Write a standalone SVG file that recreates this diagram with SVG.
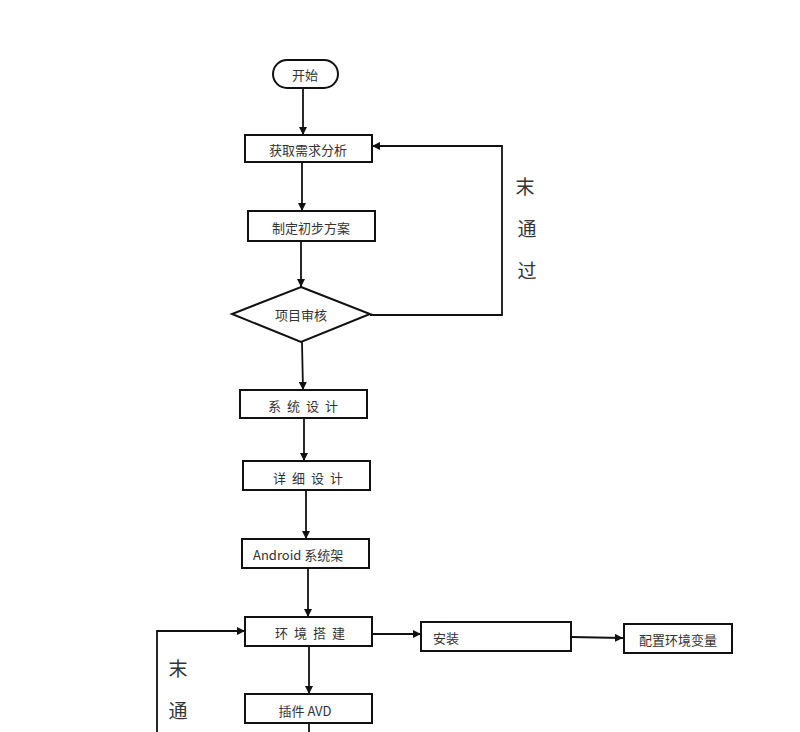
<svg xmlns="http://www.w3.org/2000/svg" width="800" height="732" viewBox="0 0 800 732">
<style>
.box{fill:#fff;stroke:#111;stroke-width:2}
.t{font-family:"Noto Sans CJK SC","Liberation Sans",sans-serif;font-size:13px;fill:#333;dominant-baseline:central}
.c{text-anchor:middle}
.big{font-family:"Noto Sans CJK SC",sans-serif;font-size:19px;fill:#333;text-anchor:middle;dominant-baseline:central}
.ln{fill:none;stroke:#111;stroke-width:1.8}
</style>
<defs>
<marker id="ah" viewBox="0 0 10 10" refX="10" refY="5" markerWidth="8" markerHeight="8" orient="auto" markerUnits="userSpaceOnUse">
<path d="M0,0 L10,5 L0,10 z" fill="#111"/>
</marker>
</defs>
<rect width="800" height="732" fill="#fff"/>
<g id="connectors">
<path class="ln" d="M303,88 L303,135" marker-end="url(#ah)"/>
<path class="ln" d="M302,162 L302,211" marker-end="url(#ah)"/>
<path class="ln" d="M301,241 L301,287" marker-end="url(#ah)"/>
<path class="ln" d="M370,315 L502,315 L502,146 L372,146" marker-end="url(#ah)"/>
<path class="ln" d="M302,342 L303,390" marker-end="url(#ah)"/>
<path class="ln" d="M304,418 L304,461" marker-end="url(#ah)"/>
<path class="ln" d="M306,490 L306,539" marker-end="url(#ah)"/>
<path class="ln" d="M308,568 L308,617" marker-end="url(#ah)"/>
<path class="ln" d="M372,634 L421,634" marker-end="url(#ah)"/>
<path class="ln" d="M571,637 L623,638" marker-end="url(#ah)"/>
<path class="ln" d="M309,646 L309,694" marker-end="url(#ah)"/>
<path class="ln" d="M309,723 L309,732"/>
<path class="ln" d="M157,732 L157,631 L245,631" marker-end="url(#ah)"/>
</g>
<g id="start">
<rect class="box" x="273" y="60" width="65" height="28" rx="14" stroke-width="1.5"/>
<text class="t c" x="305" y="74">开始</text>
</g>
<g id="n1">
<rect class="box" x="245" y="135" width="127" height="27"/>
<text class="t c" x="308" y="149">获取需求分析</text>
</g>
<g id="n2">
<rect class="box" x="248" y="211" width="127" height="30"/>
<text class="t c" x="311" y="227">制定初步方案</text>
</g>
<g id="review">
<polygon class="box" points="301,287 370,314 301,342 232,314" stroke-width="1.8"/>
<text class="t c" x="301" y="314">项目审核</text>
</g>
<g id="label1">
<text class="big" x="525" y="185">末</text>
<text class="big" x="527" y="227">通</text>
<text class="big" x="527" y="269">过</text>
</g>
<g id="n3">
<rect class="box" x="240" y="390" width="127" height="28"/>
<text class="t c" x="306" y="405" letter-spacing="6">系统设计</text>
</g>
<g id="n4">
<rect class="box" x="243" y="461" width="127" height="29"/>
<text class="t c" x="311" y="477" letter-spacing="6">详细设计</text>
</g>
<g id="n5">
<rect class="box" x="242" y="539" width="127" height="29"/>
<text class="t" x="253" y="554">Android 系统架</text>
</g>
<g id="n6">
<rect class="box" x="245" y="617" width="127" height="29"/>
<text class="t c" x="313" y="632" letter-spacing="6">环境搭建</text>
</g>
<g id="n7">
<rect class="box" x="421" y="622" width="150" height="29"/>
<text class="t" x="433" y="637">安装</text>
</g>
<g id="n8">
<rect class="box" x="624" y="624" width="108" height="29"/>
<text class="t c" x="678" y="639">配置环境变量</text>
</g>
<g id="n9">
<rect class="box" x="245" y="694" width="127" height="29"/>
<text class="t c" x="305" y="710">插件 AVD</text>
</g>
<g id="label2">
<text class="big" x="178" y="667">末</text>
<text class="big" x="178" y="709">通</text>
</g>
</svg>
